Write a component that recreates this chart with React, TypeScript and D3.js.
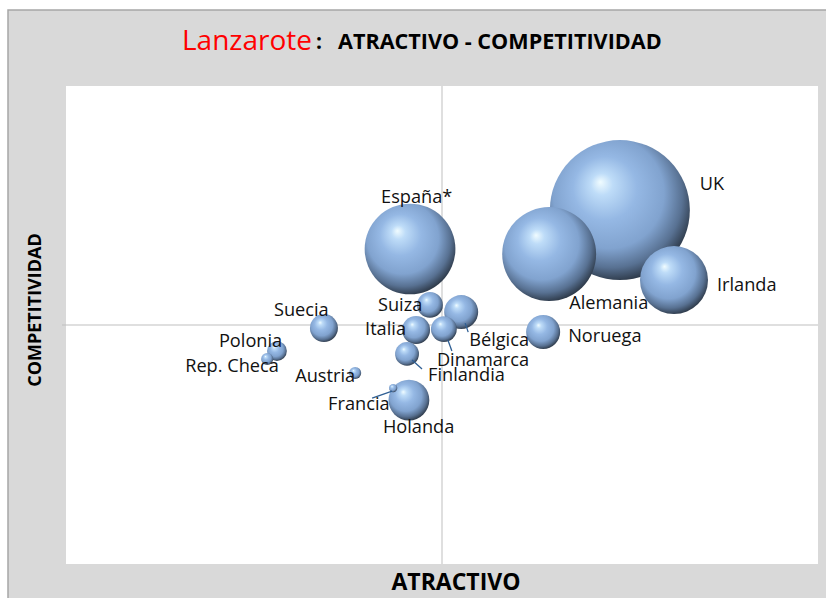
import React from "react";
import * as d3 from "d3";

const countries = ["UK", "Alemania", "España*", "Irlanda", "Holanda", "Noruega", "Bélgica", "Italia", "Suecia", "Suiza", "Dinamarca", "Finlandia", "Polonia", "Austria", "Rep. Checa", "Francia"];
const atractivo = [1.473, 1.285, 0.915, 1.617, 0.912, 1.269, 1.051, 0.931, 0.686, 0.968, 1.005, 0.907, 0.561, 0.769, 0.535, 0.870];
const competitividad = [1.481, 1.297, 1.318, 1.188, 0.686, 0.971, 1.054, 0.979, 0.987, 1.084, 0.983, 0.879, 0.891, 0.799, 0.858, 0.736];
const volumen = [100, 45, 42, 23.6, 8.5, 5.9, 5.9, 4, 4, 3.4, 3.4, 2.9, 2, 0.75, 0.75, 0.35];

// label placement relative to bubble centre (pixels) and optional leader line
const labelLayout: Record<string, { dx: number; dy: number; line?: [number, number, number, number] }> = {
  "UK": { dx: 80, dy: -20 },
  "Alemania": { dx: 20, dy: 55 },
  "España*": { dx: -29, dy: -46 },
  "Irlanda": { dx: 43, dy: 11 },
  "Holanda": { dx: -26, dy: 33 },
  "Noruega": { dx: 25, dy: 10 },
  "Bélgica": { dx: 8, dy: 34, line: [4, 11, 7, 20] },
  "Italia": { dx: -51, dy: 5 },
  "Suecia": { dx: -50, dy: -12 },
  "Suiza": { dx: -52, dy: 6 },
  "Dinamarca": { dx: -7, dy: 37, line: [4, 11, 8, 22] },
  "Finlandia": { dx: 21, dy: 27, line: [5, 6, 15, 15] },
  "Polonia": { dx: -58, dy: -4 },
  "Austria": { dx: -60, dy: 9 },
  "Rep. Checa": { dx: -82, dy: 13 },
  "Francia": { dx: -65, dy: 22, line: [-1, 3, -21, 10] },
};

const W = 826, H = 598;
const plot = { left: 66, top: 86, right: 818, bottom: 564 };

export default function App() {
  const x = d3.scaleLinear().domain([0, 2]).range([plot.left, plot.right]);
  const y = d3.scaleLinear().domain([0, 2]).range([plot.bottom, plot.top]);
  const r = d3.scaleSqrt().domain([0, 100]).range([0, 70]);
  const data = countries.map((c, i) => ({ c, x: atractivo[i], y: competitividad[i], v: volumen[i] }))
    .sort((a, b) => b.v - a.v);
  const font = "'Open Sans', sans-serif";
  return (
    <svg width={W} height={H} style={{ position: "absolute", left: 0, top: 0 }} xmlns="http://www.w3.org/2000/svg">
      <defs>
        <radialGradient id="sphere" cx="0.45" cy="0.42" r="0.6" fx="0.36" fy="0.3">
          <stop offset="0" stopColor="#f0fcff" />
          <stop offset="0.13" stopColor="#bedcf8" />
          <stop offset="0.38" stopColor="#95b8e4" />
          <stop offset="0.66" stopColor="#81a3cf" />
          <stop offset="0.85" stopColor="#587192" />
          <stop offset="1" stopColor="#2a3543" />
        </radialGradient>
      </defs>
      <rect x={0} y={0} width={W} height={H} fill="#ffffff" />
      <rect x={8} y={10} width={W} height={H} fill="#d9d9d9" stroke="#a6a6a6" strokeWidth={1.5} />
      <rect x={plot.left} y={plot.top} width={plot.right - plot.left} height={plot.bottom - plot.top} fill="#ffffff" />
      <line x1={x(1)} x2={x(1)} y1={plot.top} y2={plot.bottom} stroke="#bfbfbf" strokeWidth={1} />
      <line x1={plot.left - 4} x2={plot.right} y1={y(1)} y2={y(1)} stroke="#bfbfbf" strokeWidth={1} />
      {data.map((d) => (
        <circle key={d.c} cx={x(d.x)} cy={y(d.y)} r={r(d.v)} fill="url(#sphere)" />
      ))}
      {data.map((d) => {
        const L = labelLayout[d.c];
        const cx = x(d.x), cy = y(d.y);
        return (
          <g key={"l" + d.c}>
            {L.line && (
              <line x1={cx + L.line[0]} y1={cy + L.line[1]} x2={cx + L.line[2]} y2={cy + L.line[3]} stroke="#2f5f94" strokeWidth={1.3} />
            )}
            <text x={cx + L.dx} y={cy + L.dy} fontFamily={font} fontSize={18.2} fill="#111">{d.c}</text>
          </g>
        );
      })}
      <text x={182} y={50} fontFamily={font} fontSize={28} fontWeight={500} fill="#ff0000">Lanzarote</text>
      <text x={316} y={49} fontFamily={font} fontWeight="bold" fontSize={21} fill="#000">:</text>
      <text x={338} y={49} fontFamily={font} fontWeight="bold" fontSize={21.6} fill="#000">ATRACTIVO - COMPETITIVIDAD</text>
      <text x={x(1) + 14} y={590} textAnchor="middle" fontFamily={font} fontWeight="bold" fontSize={23} fill="#000">ATRACTIVO</text>
      <text transform={`translate(41, 310) rotate(-90)`} textAnchor="middle" fontFamily={font} fontWeight="bold" fontSize={18} fill="#000">COMPETITIVIDAD</text>
    </svg>
  );
}
